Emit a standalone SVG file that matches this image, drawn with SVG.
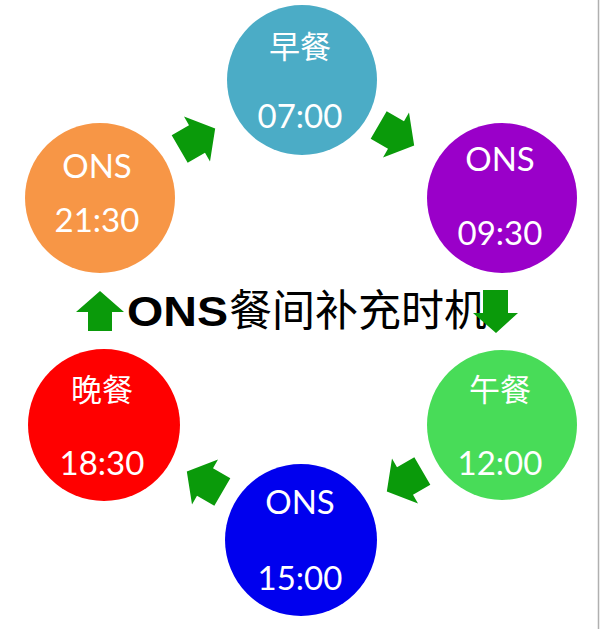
<svg xmlns="http://www.w3.org/2000/svg" width="600" height="629" viewBox="0 0 600 629">
<defs>
<style>
.t{fill:#fff;font-family:Lato,"Noto Sans CJK SC",sans-serif;font-size:33px;text-anchor:middle}
.c{fill:#fff;font-family:"Noto Sans CJK SC",sans-serif;font-size:31px;text-anchor:middle}
.arr{fill:#0a9a0a}
</style>
<polygon id="blk" points="21,0 0,-26 0,-16 -20,-16 -20,16 0,16 0,26"/>
</defs>
<rect width="600" height="629" fill="#fff"/>
<line x1="598.5" y1="0" x2="598.5" y2="629" stroke="#b0b0b0" stroke-width="1.5"/>
<g id="n1"><circle cx="302" cy="80" r="75" fill="#4bacc6"/><text class="c" x="300" y="58">早餐</text><text class="t" x="300" y="128">07:00</text></g>
<g id="n2"><circle cx="502" cy="198" r="75" fill="#9a00c9"/><text class="t" x="500" y="171">ONS</text><text class="t" x="500" y="245">09:30</text></g>
<g id="n3"><circle cx="502" cy="425" r="75" fill="#48dc58"/><text class="c" x="500" y="401">午餐</text><text class="t" x="500" y="475">12:00</text></g>
<g id="n4"><circle cx="301" cy="540" r="76" fill="#0000ee"/><text class="t" x="300" y="514">ONS</text><text class="t" x="300" y="590">15:00</text></g>
<g id="n5"><circle cx="104" cy="425" r="76" fill="#ff0000"/><text class="c" x="102" y="401">晚餐</text><text class="t" x="102" y="475">18:30</text></g>
<g id="n6"><circle cx="100" cy="198" r="75" fill="#f79646"/><text class="t" x="97" y="178">ONS</text><text class="t" x="97" y="232">21:30</text></g>
<g id="title"><text y="326" font-size="43" fill="#000"><tspan x="127" font-family="Liberation Sans,Arial,sans-serif" font-weight="bold" textLength="101" lengthAdjust="spacingAndGlyphs">ONS</tspan><tspan x="229" font-family="Noto Sans CJK SC,sans-serif" font-size="43">餐间补充时机</tspan></text></g>
<g id="connectors" class="arr">
<use href="#blk" transform="translate(197,139) rotate(-30)"/>
<use href="#blk" transform="translate(396,135) rotate(30)"/>
<use href="#blk" transform="translate(405,481) rotate(150)"/>
<use href="#blk" transform="translate(205,482) rotate(210)"/>
<polygon points="100,291 124,312 112,312 112,331 88,331 88,312 76,312"/>
<polygon points="496,333 518,313 508,313 508,290 483,290 483,313 473,313"/>
</g>
</svg>
